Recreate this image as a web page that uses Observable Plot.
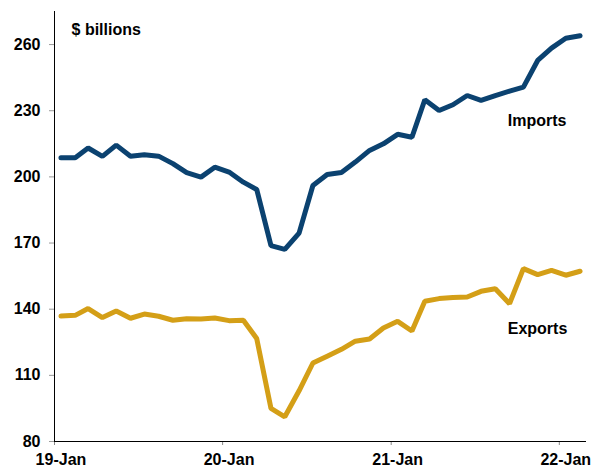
<!DOCTYPE html>
<html>
<head>
<meta charset="utf-8">
<script src="https://cdn.jsdelivr.net/npm/d3@7"></script>
<script src="https://cdn.jsdelivr.net/npm/@observablehq/plot@0.6"></script>
<style>
  html, body { margin: 0; padding: 0; background: #fff; }
  #chart svg { display: block; font-family: "Liberation Sans", Arial, sans-serif; }
</style>
</head>
<body>
<div id="chart"></div>
<script>
const months = [
  "2019-01","2019-02","2019-03","2019-04","2019-05","2019-06","2019-07","2019-08","2019-09","2019-10","2019-11","2019-12",
  "2020-01","2020-02","2020-03","2020-04","2020-05","2020-06","2020-07","2020-08","2020-09","2020-10","2020-11","2020-12",
  "2021-01","2021-02","2021-03","2021-04","2021-05","2021-06","2021-07","2021-08","2021-09","2021-10","2021-11","2021-12",
  "2022-01","2022-02"
];
const imports = [
  208.7, 208.7, 213.1, 209.3, 214.4, 209.4, 210.0, 209.4, 206.0, 201.9, 199.9, 204.4,
  202.2, 197.6, 194.3, 168.8, 167.1, 174.5, 196.1, 201.1, 202.0, 206.7, 212.0, 215.0,
  219.3, 218.0, 235.0, 230.1, 232.7, 236.9, 234.7, 236.9, 238.9, 240.7, 252.8, 258.4,
  262.9, 264.0
];
const exports = [
  136.9, 137.2, 140.3, 136.2, 139.2, 135.9, 137.8, 136.8, 135.0, 135.7, 135.5, 136.0,
  134.8, 135.0, 126.7, 95.0, 91.2, 103.0, 115.6, 118.7, 121.8, 125.5, 126.5, 131.5,
  134.5, 130.1, 143.6, 144.8, 145.3, 145.5, 148.1, 149.3, 142.5, 158.4, 155.7, 157.6,
  155.4, 157.2
];
const yTicks = [80, 110, 140, 170, 200, 230, 260];
const xTickYears = ["2019", "2020", "2021", "2022"];
const xTickLabels = ["19-Jan", "20-Jan", "21-Jan", "22-Jan"];
const unitLabel = "$ billions";
const seriesNames = ["Imports", "Exports"];

// data points sit mid-month
const toDate = m => new Date(m + "-15T00:00:00Z");
const data = [];
months.forEach((m, i) => {
  data.push({date: toDate(m), value: imports[i], series: seriesNames[0]});
  data.push({date: toDate(m), value: exports[i], series: seriesNames[1]});
});
const tickDates = xTickYears.map(y => new Date(y + "-01-01T00:00:00Z"));
const labelDates = xTickYears.map(y => new Date(y + "-01-15T00:00:00Z"));
const labelMap = new Map(labelDates.map((d, i) => [+d, xTickLabels[i]]));

const xStart = new Date("2019-01-01T00:00:00Z");
const xEnd = new Date("2022-03-01T00:00:00Z");

const chart = Plot.plot({
  width: 592,
  height: 468,
  marginLeft: 54,
  marginRight: 6,
  marginTop: 11,
  marginBottom: 27,
  style: {fontFamily: "'Liberation Sans', Arial, sans-serif", fontSize: "16px", fontWeight: "bold", color: "#000", background: "#fff"},
  x: {type: "utc", domain: [xStart, xEnd]},
  y: {domain: [80, 275]},
  color: {domain: seriesNames, range: ["#0b4270", "#d49f17"]},
  marks: [
    Plot.axisY({ticks: yTicks, tickSize: 5, tickPadding: 9, stroke: "#999", fill: "#000", fontWeight: "bold", fontSize: 16, label: null}),
    Plot.axisX({ticks: tickDates, tickSize: 4, tickFormat: () => "", stroke: "#888", label: null}),
    Plot.axisX({ticks: labelDates, tickSize: 0, tickPadding: 12, tickFormat: d => labelMap.get(+d), fill: "#000", fontWeight: "bold", fontSize: 16, label: null}),
    Plot.ruleX([xStart], {stroke: "#000", strokeWidth: 1}),
    Plot.ruleY([80], {stroke: "#000", strokeWidth: 1}),
    Plot.line(data, {x: "date", y: "value", z: "series", stroke: "series", strokeWidth: 5, strokeLinejoin: "miter", strokeLinecap: "round"}),
    Plot.text([unitLabel], {x: new Date("2019-02-07T00:00:00Z"), y: 266.5, text: d => d, textAnchor: "start", fill: "#000", fontWeight: "bold", fontSize: 16}),
    Plot.text([seriesNames[0]], {x: new Date("2021-09-11T00:00:00Z"), y: 225.6, text: d => d, textAnchor: "start", fill: "#000", fontWeight: "bold", fontSize: 16}),
    Plot.text([seriesNames[1]], {x: new Date("2021-09-11T00:00:00Z"), y: 131, text: d => d, textAnchor: "start", fill: "#000", fontWeight: "bold", fontSize: 16})
  ]
});
document.getElementById("chart").appendChild(chart);
</script>
</body>
</html>
